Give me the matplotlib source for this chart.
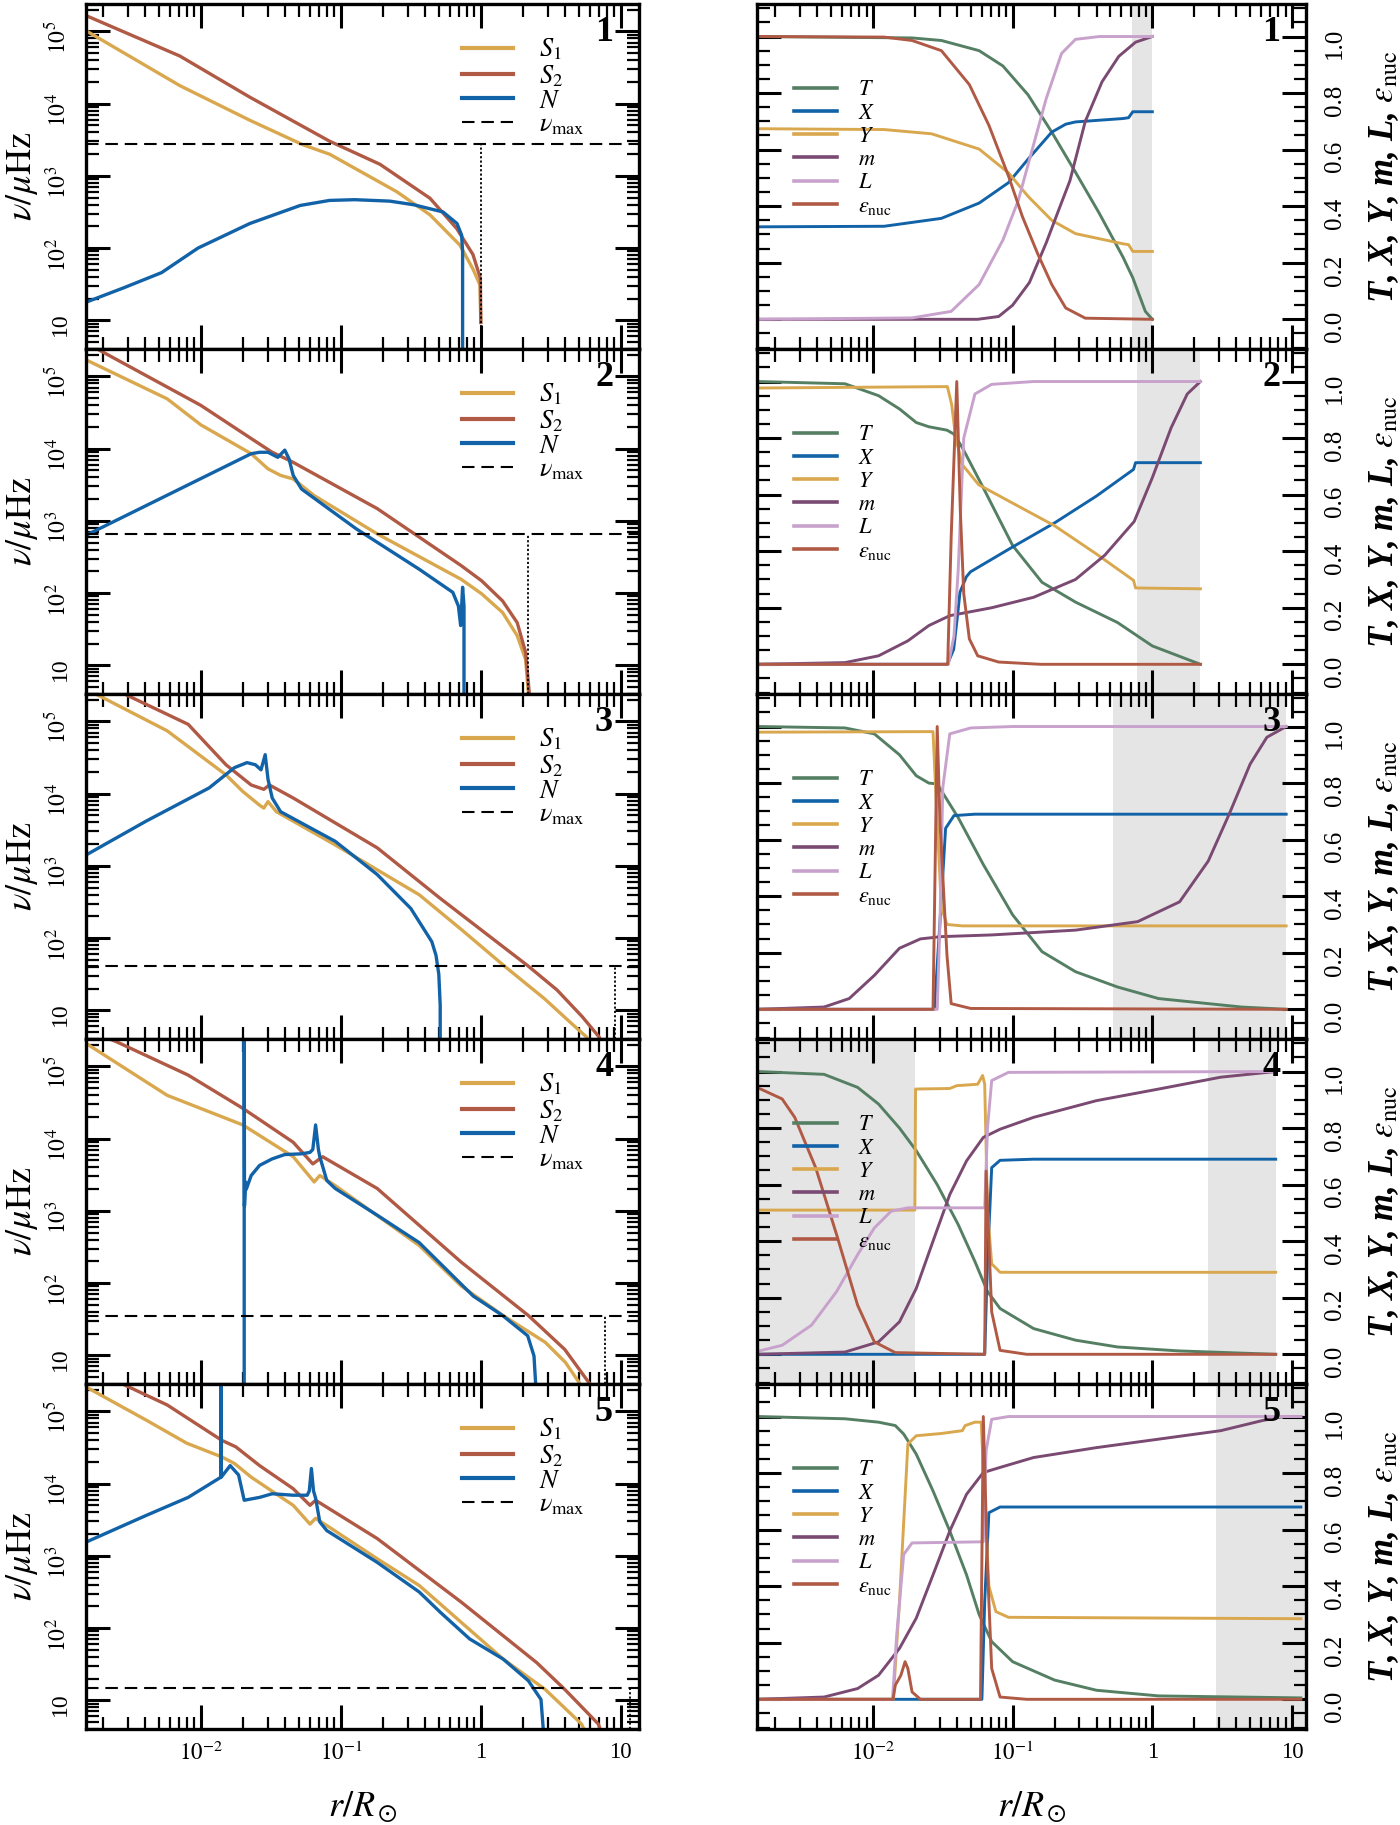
import numpy as np
import matplotlib
matplotlib.use('Agg')
import matplotlib.pyplot as plt
from matplotlib.ticker import FuncFormatter, LogLocator, MultipleLocator, NullFormatter, FormatStrFormatter

plt.rcParams['font.family'] = 'serif'
plt.rcParams['font.serif'] = ['Liberation Serif', 'DejaVu Serif']
plt.rcParams['mathtext.fontset'] = 'stix'

# ---------------- colours ----------------
C_GOLD = '#D9A84E'
C_RED = '#B05A45'
C_BLUE = '#1262A8'
C_GREEN = '#557F63'
C_PURPLE = '#7A4A72'
C_LILAC = '#C8A2CC'
C_SHADE = '#E5E5E5'

# ---------------- LEFT panels: (log10 r/Rsun, log10 nu/muHz) ----------------
P1_S1 = [(-2.82, 5.01), (-2.15, 4.25), (-1.65, 3.77), (-1.27, 3.43), (-1.08, 3.30), (-0.60, 2.78),
         (-0.363, 2.46), (-0.149, 2.04), (-0.056, 1.71), (-0.006, 1.49), (0.0, 0.97)]
P1_S2 = [(-2.82, 5.22), (-2.15, 4.66), (-1.65, 4.09), (-1.08, 3.48), (-0.72, 3.16), (-0.363, 2.69),
         (-0.172, 2.27), (-0.056, 1.91), (-0.003, 1.58), (0.0, 0.97)]
P1_N = [(-2.82, 1.25), (-2.55, 1.45), (-2.28, 1.66), (-2.02, 2.00), (-1.65, 2.34), (-1.29, 2.59),
        (-1.08, 2.66), (-0.90, 2.67), (-0.65, 2.65), (-0.48, 2.60), (-0.27, 2.50), (-0.17, 2.34),
        (-0.137, 2.18), (-0.13, 1.95), (-0.13, 0.5)]

P2_S1 = [(-2.82, 5.23), (-2.24, 4.69), (-2.0, 4.33), (-1.64, 3.93), (-1.52, 3.72), (-1.43, 3.63),
         (-1.34, 3.58), (-1.19, 3.35), (-0.74, 2.82), (-0.14, 2.19), (0.006, 1.99), (0.156, 1.73),
         (0.26, 1.41), (0.32, 1.08), (0.34, 0.6), (0.345, 0.5)]
P2_S2 = [(-2.82, 5.45), (-2.73, 5.37), (-2.0, 4.60), (-1.64, 4.14), (-1.49, 3.95), (-1.37, 3.84),
         (-1.34, 3.81), (-0.74, 3.17), (-0.14, 2.38), (0.006, 2.17), (0.156, 1.89), (0.26, 1.59),
         (0.32, 1.18), (0.347, 0.6), (0.35, 0.5)]
P2_N = [(-2.82, 2.80), (-1.64, 3.93), (-1.58, 3.95), (-1.52, 3.95), (-1.45, 3.88), (-1.40, 3.98),
        (-1.37, 3.86), (-1.34, 3.63), (-1.28, 3.44), (-0.89, 2.89), (-0.44, 2.33), (-0.20, 2.01),
        (-0.16, 1.82), (-0.144, 1.55), (-0.13, 2.08), (-0.12, 1.82), (-0.12, 0.5)]

P3_S1 = [(-2.82, 5.45), (-2.24, 4.87), (-1.82, 4.26), (-1.70, 4.03), (-1.58, 3.84), (-1.55, 3.80),
         (-1.52, 3.89), (-1.46, 3.75), (-1.04, 3.29), (-0.44, 2.60), (-0.14, 2.12), (0.17, 1.61),
         (0.455, 1.16), (0.635, 0.84), (0.755, 0.63), (0.80, 0.5)]
P3_S2 = [(-2.62, 5.42), (-2.54, 5.375), (-2.09, 4.96), (-1.82, 4.40), (-1.64, 4.12), (-1.55, 4.06),
         (-1.51, 4.12), (-1.34, 3.94), (-0.74, 3.25), (-0.29, 2.55), (0.34, 1.61), (0.545, 1.28),
         (0.725, 0.91), (0.845, 0.63), (0.88, 0.5)]
P3_N = [(-2.82, 3.15), (-2.39, 3.62), (-1.94, 4.08), (-1.76, 4.36), (-1.67, 4.43), (-1.61, 4.40),
        (-1.57, 4.33), (-1.54, 4.54), (-1.52, 4.20), (-1.49, 3.94), (-1.43, 3.75), (-1.04, 3.34),
        (-0.74, 2.88), (-0.50, 2.41), (-0.35, 1.95), (-0.32, 1.76), (-0.30, 1.5), (-0.29, 1.07),
        (-0.29, 0.5)]

P4_S1 = [(-2.82, 5.32), (-2.24, 4.60), (-1.70, 4.19), (-1.34, 3.75), (-1.19, 3.40), (-1.15, 3.49),
         (-1.04, 3.35), (-0.44, 2.52), (-0.14, 1.96), (0.16, 1.55), (0.46, 1.18), (0.605, 0.90),
         (0.71, 0.60), (0.73, 0.5)]
P4_S2 = [(-2.70, 5.42), (-2.60, 5.34), (-2.09, 4.88), (-1.70, 4.42), (-1.34, 3.95), (-1.20, 3.65),
         (-1.13, 3.75), (-0.74, 3.31), (-0.14, 2.29), (0.34, 1.55), (0.60, 1.08), (0.78, 0.60),
         (0.80, 0.5)]
P4_N = [(-1.69, 0.5), (-1.69, 5.5), (-1.688, 3.07), (-1.68, 3.40), (-1.675, 3.30), (-1.64, 3.49),
        (-1.58, 3.63), (-1.49, 3.72), (-1.40, 3.78), (-1.28, 3.79), (-1.22, 3.81), (-1.20, 3.85),
        (-1.18, 4.19), (-1.16, 3.85), (-1.15, 3.75), (-1.10, 3.42), (-1.04, 3.31), (-0.74, 2.94),
        (-0.44, 2.56), (-0.20, 2.10), (-0.054, 1.82), (0.156, 1.55), (0.335, 1.27), (0.38, 0.99),
        (0.395, 0.5)]

P5_S1 = [(-2.82, 5.34), (-2.39, 4.88), (-2.10, 4.56), (-1.85, 4.37), (-1.76, 4.28), (-1.64, 4.09),
         (-1.34, 3.70), (-1.22, 3.44), (-1.18, 3.52), (-1.10, 3.42), (-0.74, 2.96), (-0.44, 2.59),
         (-0.14, 2.08), (0.16, 1.57), (0.46, 1.15), (0.72, 0.67), (0.76, 0.5)]
P5_S2 = [(-2.66, 5.44), (-2.57, 5.39), (-2.24, 5.09), (-1.85, 4.60), (-1.75, 4.51), (-1.58, 4.25),
         (-1.34, 3.93), (-1.22, 3.70), (-1.18, 3.77), (-0.74, 3.24), (-0.14, 2.36), (0.40, 1.52),
         (0.60, 1.15), (0.84, 0.67), (0.87, 0.5)]
P5_N = [(-2.82, 3.19), (-2.39, 3.56), (-2.09, 3.81), (-1.856, 4.09), (-1.856, 5.5), (-1.854, 4.09),
        (-1.79, 4.25), (-1.73, 4.12), (-1.69, 3.77), (-1.58, 3.81), (-1.49, 3.86), (-1.34, 3.84),
        (-1.24, 3.84), (-1.225, 3.9), (-1.21, 4.21), (-1.195, 3.9), (-1.18, 3.80), (-1.15, 3.47),
        (-1.10, 3.35), (-0.74, 2.91), (-0.44, 2.50), (-0.29, 2.22), (-0.08, 1.85), (0.16, 1.57),
        (0.34, 1.27), (0.43, 1.01), (0.45, 0.5)]

NU_MAX = [2730.0, 660.0, 41.0, 35.0, 15.0]        # muHz
R_STAR = [1.0, 2.19, 9.12, 7.76, 11.7]           # r/Rsun (vertical dotted line)

LEFT_DATA = [(P1_S1, P1_S2, P1_N), (P2_S1, P2_S2, P2_N), (P3_S1, P3_S2, P3_N),
             (P4_S1, P4_S2, P4_N), (P5_S1, P5_S2, P5_N)]

# ---------------- RIGHT panels: (log10 r/Rsun, value) ----------------
Q1_T = [(-2.83, 1.0), (-1.72, 0.995), (-1.51, 0.986), (-1.24, 0.95), (-1.07, 0.896), (-0.89, 0.794),
        (-0.72, 0.662), (-0.55, 0.52), (-0.38, 0.375), (-0.21, 0.22), (-0.14, 0.147), (-0.05, 0.028), (0.0, 0.0)]
Q1_X = [(-2.83, 0.327), (-1.92, 0.329), (-1.51, 0.357), (-1.24, 0.411), (-1.03, 0.483), (-0.89, 0.566),
        (-0.72, 0.662), (-0.62, 0.69), (-0.55, 0.698), (-0.21, 0.71), (-0.17, 0.713), (-0.14, 0.734), (0.0, 0.734)]
Q1_Y = [(-2.83, 0.674), (-1.92, 0.671), (-1.58, 0.656), (-1.24, 0.602), (-1.03, 0.518), (-0.89, 0.435),
        (-0.72, 0.35), (-0.55, 0.303), (-0.21, 0.267), (-0.17, 0.264), (-0.14, 0.24), (0.0, 0.24)]
Q1_m = [(-2.83, 0.0), (-1.25, 0.0), (-1.10, 0.01), (-1.0, 0.05), (-0.88, 0.13), (-0.76, 0.27), (-0.66, 0.40),
        (-0.59, 0.49), (-0.48, 0.70), (-0.36, 0.84), (-0.24, 0.93), (-0.12, 0.98), (0.0, 1.0)]
Q1_L = [(-2.83, 0.0), (-1.72, 0.005), (-1.44, 0.028), (-1.24, 0.123), (-1.07, 0.28), (-0.96, 0.42),
        (-0.86, 0.60), (-0.76, 0.78), (-0.65, 0.94), (-0.55, 0.99), (-0.38, 1.0), (0.0, 1.0)]
Q1_e = [(-2.83, 1.0), (-1.92, 0.998), (-1.72, 0.986), (-1.51, 0.95), (-1.31, 0.83), (-1.17, 0.686),
        (-1.03, 0.507), (-0.93, 0.363), (-0.82, 0.231), (-0.72, 0.123), (-0.62, 0.04), (-0.48, 0.004), (0.0, 0.0)]

Q2_T = [(-2.83, 1.0), (-2.20, 0.992), (-1.96, 0.95), (-1.81, 0.903), (-1.69, 0.855), (-1.60, 0.84),
        (-1.47, 0.828), (-1.42, 0.814), (-1.36, 0.766), (-1.21, 0.624), (-1.0, 0.42), (-0.79, 0.29),
        (-0.55, 0.22), (-0.25, 0.148), (0.0, 0.065), (0.344, 0.0)]
Q2_X = [(-2.83, 0.0), (-1.467, 0.0), (-1.422, 0.053), (-1.392, 0.184), (-1.377, 0.255), (-1.332, 0.309),
        (-1.302, 0.327), (-1.0, 0.415), (-0.70, 0.50), (-0.40, 0.595), (-0.135, 0.689), (-0.12, 0.713), (0.344, 0.713)]
Q2_Y = [(-2.83, 0.977), (-1.467, 0.982), (-1.437, 0.92), (-1.407, 0.80), (-1.362, 0.707), (-1.243, 0.635),
        (-1.0, 0.57), (-0.70, 0.49), (-0.40, 0.39), (-0.135, 0.297), (-0.12, 0.27), (0.344, 0.267)]
Q2_m = [(-2.83, 0.0), (-2.20, 0.006), (-1.96, 0.03), (-1.75, 0.083), (-1.60, 0.137), (-1.45, 0.172),
        (-1.15, 0.20), (-0.85, 0.237), (-0.55, 0.30), (-0.34, 0.386), (-0.13, 0.505), (0.0, 0.66),
        (0.135, 0.837), (0.25, 0.956), (0.344, 1.0)]
Q2_L = [(-2.83, 0.0), (-1.46, 0.0), (-1.42, 0.10), (-1.39, 0.33), (-1.35, 0.80), (-1.27, 0.956),
        (-1.15, 0.99), (-0.85, 1.0), (0.344, 1.0)]
Q2_e = [(-2.83, 0.0), (-1.465, 0.0), (-1.44, 0.45), (-1.40, 1.0), (-1.375, 0.55), (-1.35, 0.25),
        (-1.31, 0.09), (-1.25, 0.03), (-1.10, 0.008), (-0.80, 0.0), (0.344, 0.0)]

Q3_T = [(-2.83, 1.0), (-2.20, 0.995), (-1.99, 0.974), (-1.81, 0.90), (-1.69, 0.826), (-1.60, 0.80),
        (-1.54, 0.797), (-1.51, 0.773), (-1.39, 0.678), (-1.21, 0.512), (-1.0, 0.334), (-0.79, 0.204),
        (-0.55, 0.133), (-0.25, 0.079), (0.045, 0.038), (0.64, 0.008), (0.958, 0.0)]
Q3_X = [(-2.83, 0.0), (-1.56, 0.0), (-1.52, 0.31), (-1.48, 0.64), (-1.42, 0.685), (-1.27, 0.69), (0.958, 0.69)]
Q3_Y = [(-2.83, 0.98), (-1.57, 0.982), (-1.54, 0.66), (-1.51, 0.36), (-1.47, 0.30), (-1.36, 0.295), (0.958, 0.295)]
Q3_m = [(-2.83, 0.0), (-2.35, 0.008), (-2.17, 0.038), (-1.99, 0.12), (-1.81, 0.216), (-1.66, 0.249),
        (-1.51, 0.257), (-1.15, 0.263), (-0.55, 0.28), (-0.105, 0.31), (0.195, 0.38), (0.40, 0.524),
        (0.55, 0.69), (0.70, 0.867), (0.82, 0.962), (0.958, 1.0)]
Q3_L = [(-2.83, 0.0), (-1.54, 0.0), (-1.52, 0.31), (-1.50, 0.784), (-1.45, 0.974), (-1.30, 0.995),
        (-1.0, 1.0), (0.958, 1.0)]
Q3_e = [(-2.83, 0.0), (-1.57, 0.0), (-1.555, 0.5), (-1.54, 1.0), (-1.52, 0.66), (-1.47, 0.19),
        (-1.44, 0.02), (-1.3, 0.003), (0.958, 0.0)]

Q4_T = [(-2.83, 1.0), (-2.35, 0.99), (-2.11, 0.944), (-1.96, 0.885), (-1.81, 0.80), (-1.69, 0.72),
        (-1.54, 0.60), (-1.39, 0.459), (-1.27, 0.328), (-1.18, 0.222), (-1.09, 0.162), (-0.85, 0.091),
        (-0.55, 0.05), (-0.25, 0.026), (0.19, 0.012), (0.883, 0.0)]
Q4_X = [(-2.83, 0.0), (-1.20, 0.0), (-1.18, 0.33), (-1.15, 0.66), (-1.09, 0.686), (-0.85, 0.69), (0.883, 0.69)]
Q4_Y = [(-2.83, 0.51), (-1.70, 0.51), (-1.695, 0.938), (-1.45, 0.94), (-1.40, 0.95), (-1.25, 0.955),
        (-1.215, 0.986), (-1.20, 0.955), (-1.18, 0.51), (-1.15, 0.32), (-1.09, 0.29), (0.883, 0.29)]
Q4_m = [(-2.83, 0.0), (-2.20, 0.008), (-1.96, 0.044), (-1.81, 0.115), (-1.69, 0.233), (-1.57, 0.40),
        (-1.45, 0.565), (-1.33, 0.684), (-1.21, 0.767), (-1.09, 0.796), (-0.85, 0.838), (-0.40, 0.897),
        (0.045, 0.938), (0.49, 0.98), (0.883, 1.0)]
Q4_L = [(-2.83, 0.01), (-2.65, 0.032), (-2.44, 0.103), (-2.26, 0.222), (-2.11, 0.352), (-1.99, 0.447),
        (-1.87, 0.506), (-1.75, 0.518), (-1.20, 0.518), (-1.18, 0.80), (-1.15, 0.968), (-1.03, 0.997), (0.883, 1.0)]
Q4_e = [(-2.83, 0.944), (-2.65, 0.903), (-2.56, 0.838), (-2.41, 0.66), (-2.26, 0.423), (-2.11, 0.174),
        (-1.99, 0.044), (-1.84, 0.006), (-1.20, 0.0), (-1.19, 0.648), (-1.15, 0.15), (-1.09, 0.014),
        (-0.9, 0.0), (0.883, 0.0)]

Q5_T = [(-2.83, 1.0), (-2.20, 0.992), (-1.96, 0.98), (-1.84, 0.968), (-1.78, 0.938), (-1.69, 0.867),
        (-1.57, 0.737), (-1.45, 0.595), (-1.33, 0.44), (-1.24, 0.30), (-1.15, 0.204), (-1.0, 0.133),
        (-0.70, 0.068), (-0.40, 0.032), (0.045, 0.012), (1.063, 0.005)]
Q5_X = [(-2.83, 0.0), (-1.22, 0.0), (-1.20, 0.346), (-1.17, 0.66), (-1.09, 0.68), (1.063, 0.68)]
Q5_Y = [(-2.83, 0.0), (-1.855, 0.0), (-1.81, 0.346), (-1.75, 0.903), (-1.69, 0.932), (-1.51, 0.94),
        (-1.36, 0.95), (-1.34, 0.968), (-1.27, 0.98), (-1.225, 0.98), (-1.21, 0.82), (-1.17, 0.40),
        (-1.12, 0.31), (-1.03, 0.29), (1.063, 0.285)]
Q5_m = [(-2.83, 0.0), (-2.35, 0.008), (-2.11, 0.038), (-1.96, 0.085), (-1.81, 0.18), (-1.69, 0.287),
        (-1.57, 0.44), (-1.45, 0.595), (-1.33, 0.725), (-1.21, 0.802), (-1.09, 0.82), (-0.85, 0.855),
        (-0.40, 0.89), (0.045, 0.92), (0.49, 0.95), (0.79, 0.986), (0.94, 1.0), (1.063, 1.0)]
Q5_L = [(-2.83, 0.0), (-1.86, 0.0), (-1.83, 0.227), (-1.78, 0.512), (-1.72, 0.553), (-1.21, 0.557),
        (-1.19, 0.88), (-1.15, 0.99), (-1.03, 1.0), (1.063, 1.0)]
Q5_e = [(-2.83, 0.0), (-1.856, 0.0), (-1.84, 0.05), (-1.80, 0.085), (-1.77, 0.133), (-1.75, 0.109),
        (-1.72, 0.026), (-1.66, 0.0), (-1.23, 0.0), (-1.21, 1.0), (-1.18, 0.464), (-1.15, 0.109),
        (-1.09, 0.008), (-0.9, 0.0), (1.063, 0.0)]

RIGHT_DATA = [(Q1_T, Q1_X, Q1_Y, Q1_m, Q1_L, Q1_e), (Q2_T, Q2_X, Q2_Y, Q2_m, Q2_L, Q2_e),
              (Q3_T, Q3_X, Q3_Y, Q3_m, Q3_L, Q3_e), (Q4_T, Q4_X, Q4_Y, Q4_m, Q4_L, Q4_e),
              (Q5_T, Q5_X, Q5_Y, Q5_m, Q5_L, Q5_e)]

# shaded regions, r/Rsun
SHADE = [[(0.72, 1.0)], [(0.776, 2.21)], [(0.52, 9.08)], [(1.0e-3, 0.020), (2.5, 7.64)], [(2.87, 30.0)]]

LEFT_LABELS = [r'$S_1$', r'$S_2$', r'$N$']
RIGHT_LABELS = [r'$T$', r'$X$', r'$Y$', r'$m$', r'$L$', r'$\epsilon_{\rm nuc}$']
RIGHT_COLORS = [C_GREEN, C_BLUE, C_GOLD, C_PURPLE, C_LILAC, C_RED]
PANEL_IDS = ['1', '2', '3', '4', '5']

XL_LEFT = (10 ** -2.82, 10 ** 1.13)
XL_RIGHT = (10 ** -2.83, 10 ** 1.10)
YL_LEFT = (4.0, 2.4e5)
YL_RIGHT = (-0.105, 1.115)


def logxy(pts):
    a = np.asarray(pts, dtype=float)
    return 10 ** a[:, 0], 10 ** a[:, 1]


def logx_lin(pts):
    a = np.asarray(pts, dtype=float)
    return 10 ** a[:, 0], a[:, 1]


def logfmt(v, pos):
    e = int(round(np.log10(v)))
    if e == 0:
        return '1'
    if e == 1:
        return '10'
    return r'$10^{%d}$' % e


def style_axes(ax):
    ax.tick_params(which='both', direction='in', top=True, bottom=True, left=True, right=True)
    ax.tick_params(which='major', length=17, width=2.2)
    ax.tick_params(which='minor', length=9, width=1.6)
    for s in ax.spines.values():
        s.set_linewidth(2.4)
    ax.xaxis.set_major_locator(LogLocator(base=10, numticks=30))
    ax.xaxis.set_minor_locator(LogLocator(base=10, subs=np.arange(2, 10), numticks=30))
    ax.xaxis.set_major_formatter(FuncFormatter(logfmt))
    ax.xaxis.set_minor_formatter(NullFormatter())
    ax.tick_params(axis='x', labelsize=16.5, pad=9)


fig = plt.figure(figsize=(14, 18.25), dpi=100)
W, H = 1400.0, 1825.0
row_h = 345.0

for i in range(5):
    top_px = 4 + i * row_h
    bottom = 1 - (top_px + row_h) / H
    axL = fig.add_axes([86 / W, bottom, 553 / W, row_h / H])
    axR = fig.add_axes([757 / W, bottom, 549 / W, row_h / H])

    # ---------- left ----------
    S1, S2, N = LEFT_DATA[i]
    axL.set_xscale('log')
    axL.set_yscale('log')
    axL.plot(*logxy(S1), color=C_GOLD, lw=2.4, label=LEFT_LABELS[0], solid_joinstyle='round')
    axL.plot(*logxy(S2), color=C_RED, lw=2.4, label=LEFT_LABELS[1], solid_joinstyle='round')
    axL.plot(*logxy(N), color=C_BLUE, lw=2.4, label=LEFT_LABELS[2], solid_joinstyle='round')
    axL.axhline(NU_MAX[i], color='k', lw=1.5, ls=(0, (6, 3.3)), label=r'$\nu_{\rm max}$')
    axL.plot([R_STAR[i], R_STAR[i]], [YL_LEFT[0], NU_MAX[i]], color='k', lw=1.3, ls=(0, (1.2, 1.2)))
    axL.set_xlim(*XL_LEFT)
    axL.set_ylim(*YL_LEFT)
    style_axes(axL)
    axL.yaxis.set_major_locator(LogLocator(base=10, numticks=30))
    axL.yaxis.set_minor_locator(LogLocator(base=10, subs=np.arange(2, 10), numticks=30))
    axL.yaxis.set_major_formatter(FuncFormatter(logfmt))
    axL.yaxis.set_minor_formatter(NullFormatter())
    axL.tick_params(axis='y', labelrotation=90, labelsize=17, pad=11)
    axL.set_ylabel(r'$\nu/\mu\mathrm{Hz}$', fontsize=26, va='center')
    axL.yaxis.set_label_coords(-0.116, 0.5)
    legL = axL.legend(loc='upper left', bbox_to_anchor=(0.68, 0.905), frameon=False, fontsize=19,
                      handlelength=1.95, handletextpad=0.95, labelspacing=0.02, borderpad=0, borderaxespad=0)
    for h in legL.legend_handles[:3]:
        h.set_linewidth(3.0)
    axL.text(0.953, 0.965, PANEL_IDS[i], transform=axL.transAxes, ha='right', va='top',
             fontsize=26, fontweight='bold')

    # ---------- right ----------
    axR.set_xscale('log')
    for (a, b) in SHADE[i]:
        axR.axvspan(a, b, color=C_SHADE, lw=0, zorder=0)
    for series, lab, col in zip(RIGHT_DATA[i], RIGHT_LABELS, RIGHT_COLORS):
        axR.plot(*logx_lin(series), color=col, lw=2.1, label=lab, solid_joinstyle='round')
    axR.set_xlim(*XL_RIGHT)
    axR.set_ylim(*YL_RIGHT)
    style_axes(axR)
    axR.yaxis.set_major_locator(MultipleLocator(0.2))
    axR.yaxis.set_minor_locator(MultipleLocator(0.05))
    axR.yaxis.set_major_formatter(FormatStrFormatter('%.1f'))
    axR.tick_params(axis='y', labelleft=False, labelright=True, labelrotation=90, labelsize=18, pad=13)
    axR.yaxis.set_label_position('right')
    axR.set_ylabel(r'T, X, Y, m, L, $\epsilon_{\rm nuc}$', fontsize=25, fontweight='bold',
                   fontstyle='italic', rotation=90, va='center', ha='center')
    axR.yaxis.set_label_coords(1.142, 0.5)
    legR = axR.legend(loc='upper left', bbox_to_anchor=(0.067, 0.78), frameon=False, fontsize=16,
                      handlelength=1.95, handletextpad=0.95, labelspacing=0.12, borderpad=0, borderaxespad=0)
    for h in legR.legend_handles:
        h.set_linewidth(2.6)
    axR.text(0.953, 0.965, PANEL_IDS[i], transform=axR.transAxes, ha='right', va='top',
             fontsize=26, fontweight='bold')

    if i < 4:
        axL.tick_params(axis='x', labelbottom=False)
        axR.tick_params(axis='x', labelbottom=False)
    else:
        axL.set_xlabel(r'$r/R_\odot$', fontsize=26, labelpad=18)
        axR.set_xlabel(r'$r/R_\odot$', fontsize=26, labelpad=18)

fig.savefig('out.png', dpi=100)
